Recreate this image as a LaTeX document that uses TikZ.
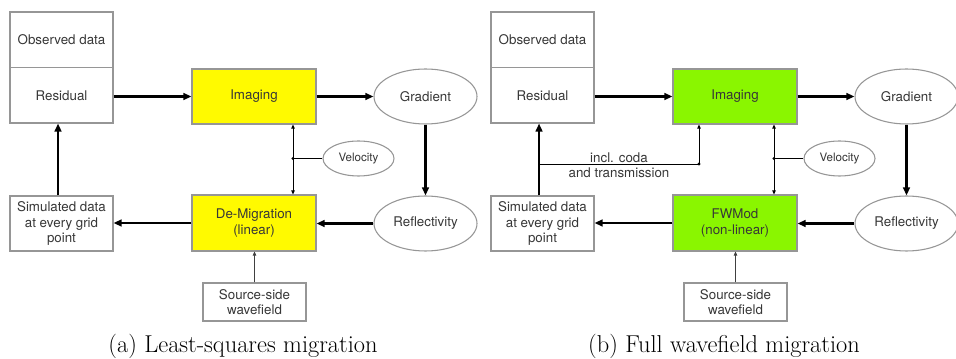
\documentclass[tikz,border=0pt]{standalone}
\usepackage{fontspec}
\setsansfont{TeX Gyre Heros}
\usetikzlibrary{arrows.meta,shapes.geometric,shadows}
\definecolor{yel}{RGB}{255,250,0}
\definecolor{grn}{RGB}{138,246,0}
\definecolor{bord}{RGB}{150,150,150}
\definecolor{txt}{RGB}{55,55,55}
\tikzset{
  x=0.75pt, y=-0.75pt,
  base/.style={draw=bord, line width=0.8pt, text=txt, align=center, inner sep=1pt,
    font=\sffamily\fontsize{10}{11.8}\selectfont},
  box/.style={base, rectangle, fill=white,
    drop shadow={shadow xshift=1pt, shadow yshift=-1pt, opacity=0.35, fill=black!45}},
  oval/.style={base, ellipse, fill=white},
  bigarrow/.style={line width=1.9pt, -{Triangle[length=6pt,width=5pt]}},
  smallarrow/.style={line width=0.6pt, -{Triangle[length=3pt,width=2.6pt]}},
  captionstyle/.style={font=\rmfamily\fontsize{18.3}{22}\selectfont, anchor=base, inner sep=0pt},
}
\newcommand\mypanel[5]{%
\begin{scope}[xshift=#2]
  \node[box, minimum width=77.25pt, minimum height=41.6pt] (#1obs) at (61.5,39.75) {Observed data};
  \node[box, minimum width=77.25pt, minimum height=41.6pt] (#1res) at (61.5,95.25) {Residual};
  \node[box, fill=#3, minimum width=93pt, minimum height=41.25pt] (#1img) at (254,96.5) {Imaging};
  \node[oval, minimum width=77.25pt, minimum height=41.25pt] (#1grad) at (425.5,96.5) {Gradient};
  \node[oval, minimum width=53.25pt, minimum height=26.25pt, font=\sffamily\fontsize{8.7}{10}\selectfont] (#1vel) at (358.5,158.5) {Velocity};
  \node[box, minimum width=77.25pt, minimum height=41.25pt] (#1sim) at (61.5,223.5) {Simulated data\\at every grid\\point};
  \node[box, fill=#3, minimum width=93pt, minimum height=42pt] (#1dem) at (254,223) {#4};
  \node[oval, minimum width=77.25pt, minimum height=41.25pt] (#1refl) at (425.5,223.5) {Reflectivity};
  \node[box, minimum width=77.25pt, minimum height=28.5pt] (#1src) at (254.5,302) {Source-side\\wavefield};
  \node[captionstyle] (#1cap) at (243,352.5) {#5};
  \coordinate (#1vd) at (293,158.5);
  \draw[bigarrow] (#1res.east |- #1img.west) -- (#1img.west);
  \draw[bigarrow] (#1img.east) -- (#1grad.west);
  \draw[bigarrow] (#1grad.south) -- (#1refl.north);
  \draw[bigarrow] (#1refl.west) -- (#1refl.west -| #1dem.east);
  \draw[bigarrow] (#1dem.west) -- (#1dem.west -| #1sim.east);
  \draw[bigarrow] ([xshift=-2.6pt]#1sim.north) -- ([xshift=-2.6pt]#1res.south);
  \draw[line width=0.6pt] (#1vel.west) -- (#1vel.west -| #1vd);
  \draw[smallarrow] (#1vd) -- (#1vd |- #1img.south);
  \draw[smallarrow] (#1vd) -- (#1vd |- #1dem.north);
  \fill (#1vd) circle (1.2pt);
  \draw[smallarrow, draw=black!75, fill=black!75] (#1src.north) -- (#1src.north |- #1dem.south);
\end{scope}}
\begin{document}
\begin{tikzpicture}
  \useasboundingbox (0,0) rectangle (956,359);
  \mypanel{a}{0pt}{yel}{De-Migration\\(linear)}{(a) Least-squares migration}
  \mypanel{b}{360.75pt}{grn}{FWMod\\(non-linear)}{(b) Full wavefield migration}
  \begin{scope}[xshift=360.75pt]
    \coordinate (bc0) at (58.5,164);
    \coordinate (bc1) at (218,164);
    \draw[smallarrow] (bc0) -- (bc1) -- (bc1 |- bimg.south);
    \fill (bc1) circle (1.2pt);
    \node[text=txt, font=\sffamily\fontsize{10}{11.25}\selectfont, align=center, inner sep=0pt] (bcoda) at (138,165) {incl. coda\\and transmission};
  \end{scope}
\end{tikzpicture}
\end{document}
